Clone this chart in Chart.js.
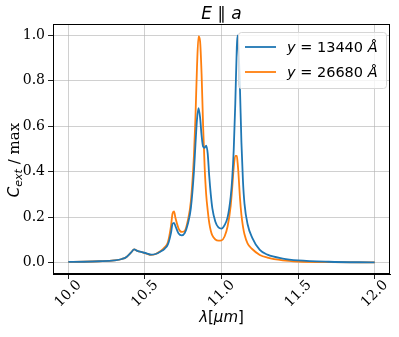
<!DOCTYPE html>
<html>
<head>
<meta charset="utf-8">
<script src="https://cdn.jsdelivr.net/npm/chart.js"></script>
<style>
  html, body { margin: 0; padding: 0; background: #fff; }
  #wrap { width: 399px; height: 337px; }
</style>
</head>
<body>
<div id="wrap"><canvas id="c" width="399" height="337"></canvas></div>
<script>
// wavelength in micron
const lambda = [10.00, 10.10, 10.20, 10.30, 10.35, 10.38, 10.41, 10.43, 10.45, 10.48,
  10.51, 10.54, 10.57, 10.60, 10.63, 10.65, 10.67, 10.68, 10.69, 10.70,
  10.72, 10.74, 10.76, 10.78, 10.80, 10.82, 10.83, 10.84, 10.85, 10.86,
  10.87, 10.88, 10.89, 10.90, 10.91, 10.92, 10.93, 10.94, 10.96, 10.98,
  11.00, 11.02, 11.04, 11.06, 11.07, 11.08, 11.09, 11.10, 11.105, 11.11,
  11.12, 11.13, 11.14, 11.15, 11.17, 11.20, 11.25, 11.30, 11.40, 11.50,
  11.70, 12.00];
const y13440 = [0.003, 0.004, 0.006, 0.010, 0.016, 0.025, 0.045, 0.058, 0.052, 0.046,
  0.041, 0.035, 0.038, 0.048, 0.062, 0.080, 0.130, 0.170, 0.175, 0.160,
  0.128, 0.120, 0.130, 0.170, 0.240, 0.400, 0.520, 0.630, 0.680, 0.640,
  0.560, 0.510, 0.505, 0.515, 0.480, 0.380, 0.300, 0.240, 0.180, 0.155,
  0.150, 0.165, 0.200, 0.290, 0.370, 0.500, 0.700, 0.950, 1.000, 0.960,
  0.780, 0.530, 0.360, 0.260, 0.170, 0.110, 0.056, 0.035, 0.018, 0.010,
  0.004, 0.001];
const y26680 = [0.003, 0.004, 0.006, 0.010, 0.016, 0.025, 0.045, 0.058, 0.052, 0.046,
  0.040, 0.034, 0.038, 0.050, 0.068, 0.090, 0.160, 0.215, 0.225, 0.195,
  0.150, 0.135, 0.140, 0.185, 0.270, 0.470, 0.640, 0.860, 0.995, 0.975,
  0.830, 0.600, 0.420, 0.300, 0.230, 0.175, 0.140, 0.120, 0.102, 0.097,
  0.098, 0.115, 0.160, 0.250, 0.330, 0.420, 0.470, 0.470, 0.440, 0.400,
  0.290, 0.210, 0.160, 0.125, 0.085, 0.060, 0.034, 0.022, 0.010, 0.005,
  0.002, 0.001];
const seriesLabels = ['13440', '26680'];
const xTicks = [10.0, 10.5, 11.0, 11.5, 12.0];
const yTicks = [0.0, 0.2, 0.4, 0.6, 0.8, 1.0];

const BLUE = '#1f77b4', ORANGE = '#ff7f0e';
const SANS = '"DejaVu Sans", sans-serif';
const SERIF = '"DejaVu Serif", serif';

function runs(ctx, parts, x, y) {
  // draw a sequence of [text, font, dy] pieces, left to right
  for (const [t, f, dy] of parts) {
    ctx.font = f;
    ctx.fillText(t, x, y + (dy || 0));
    x += ctx.measureText(t).width;
  }
  return x;
}
function runsWidth(ctx, parts) {
  let w = 0;
  for (const [t, f] of parts) { ctx.font = f; w += ctx.measureText(t).width; }
  return w;
}

const overlay = {
  id: 'overlay',
  afterDraw(chart) {
    const { ctx, chartArea: a, scales } = chart;
    ctx.save();
    // axes frame
    ctx.strokeStyle = '#000';
    ctx.lineWidth = 1;
    ctx.strokeRect(Math.round(a.left) + 0.5, Math.round(a.top) + 0.5,
      Math.round(a.right - a.left) - 1, Math.round(a.bottom - a.top) - 1);

    ctx.fillStyle = '#000';
    // x tick labels, rotated 45 deg, centred under the tick
    ctx.font = '14px ' + SERIF;
    ctx.textAlign = 'center';
    ctx.textBaseline = 'middle';
    for (const v of xTicks) {
      const px = scales.x.getPixelForValue(v);
      ctx.save();
      ctx.translate(px, 294);
      ctx.rotate(-Math.PI / 4);
      ctx.fillText(v.toFixed(1), 0, 0);
      ctx.restore();
    }

    ctx.textAlign = 'left';
    ctx.textBaseline = 'alphabetic';
    // title
    const tParts = [['E', 'italic 17px ' + SANS], [' \u2225 ', '17px ' + SANS], ['a', 'italic 17px ' + SANS]];
    const cx = (a.left + a.right) / 2;
    runs(ctx, tParts, cx - runsWidth(ctx, tParts) / 2, 19);

    // x title
    const xParts = [['\u03bb', 'italic 15px ' + SANS], ['[', '15px ' + SANS], ['\u03bcm', 'italic 15px ' + SANS], [']', '15px ' + SANS]];
    runs(ctx, xParts, cx - runsWidth(ctx, xParts) / 2, 322);

    // y title
    const yParts = [['C', 'italic 15px ' + SANS], ['ext', 'italic 11px ' + SANS, 3], [' / max', '15px ' + SERIF]];
    ctx.save();
    ctx.translate(19, 160);
    ctx.rotate(-Math.PI / 2);
    runs(ctx, yParts, -runsWidth(ctx, yParts) / 2, 0);
    ctx.restore();

    // legend
    const lx = 238, ly = 32, lw = 148, lh = 56;
    ctx.beginPath();
    ctx.roundRect(lx + 0.5, ly + 0.5, lw, lh, 3);
    ctx.fillStyle = 'rgba(255,255,255,0.8)';
    ctx.fill();
    ctx.strokeStyle = '#d6d6d6';
    ctx.stroke();
    const colors = [BLUE, ORANGE];
    seriesLabels.forEach((lab, i) => {
      const yy = 47 + i * 25;
      ctx.strokeStyle = colors[i];
      ctx.lineWidth = 1.8;
      ctx.beginPath();
      ctx.moveTo(245, yy);
      ctx.lineTo(276, yy);
      ctx.stroke();
      ctx.fillStyle = '#000';
      runs(ctx, [['y', 'italic 14.5px ' + SANS], [' = ', '14.5px ' + SANS], [lab, '14.5px ' + SANS], [' \u00c5', 'italic 14.5px ' + SANS]], 287, yy + 5);
    });
    ctx.restore();
  }
};

const gridColor = 'rgba(176,176,176,0.6)';

new Chart(document.getElementById('c'), {
  type: 'line',
  data: {
    datasets: [
      {
        label: 'y = 13440 \u00c5',
        data: lambda.map((x, i) => ({ x, y: y13440[i] })),
        borderColor: BLUE,
        borderWidth: 1.8,
        pointRadius: 0,
        cubicInterpolationMode: 'monotone',
        fill: false
      },
      {
        label: 'y = 26680 \u00c5',
        data: lambda.map((x, i) => ({ x, y: y26680[i] })),
        borderColor: ORANGE,
        borderWidth: 1.8,
        pointRadius: 0,
        cubicInterpolationMode: 'monotone',
        fill: false
      }
    ]
  },
  options: {
    responsive: false,
    animation: false,
    layout: { padding: { top: 24, right: 9, left: 0, bottom: 0 } },
    plugins: { legend: { display: false }, title: { display: false }, tooltip: { enabled: false } },
    scales: {
      x: {
        type: 'linear',
        min: 9.9,
        max: 12.1,
        afterBuildTicks: s => { s.ticks = xTicks.map(v => ({ value: v })); },
        afterFit: s => { s.height = 63; },
        ticks: { display: false },
        grid: { color: gridColor, tickColor: '#222', tickLength: 5, lineWidth: 1 },
        border: { display: true, color: '#000' }
      },
      y: {
        min: -0.05,
        max: 1.05,
        afterBuildTicks: s => { s.ticks = yTicks.map(v => ({ value: v })); },
        afterFit: s => { s.width = 53; },
        ticks: {
          color: '#000',
          padding: 3,
          font: { family: SERIF, size: 14 },
          callback: v => Number(v).toFixed(1)
        },
        grid: { color: gridColor, tickColor: '#222', tickLength: 5, lineWidth: 1 },
        border: { display: true, color: '#000' }
      }
    }
  },
  plugins: [overlay]
});
</script>
</body>
</html>
